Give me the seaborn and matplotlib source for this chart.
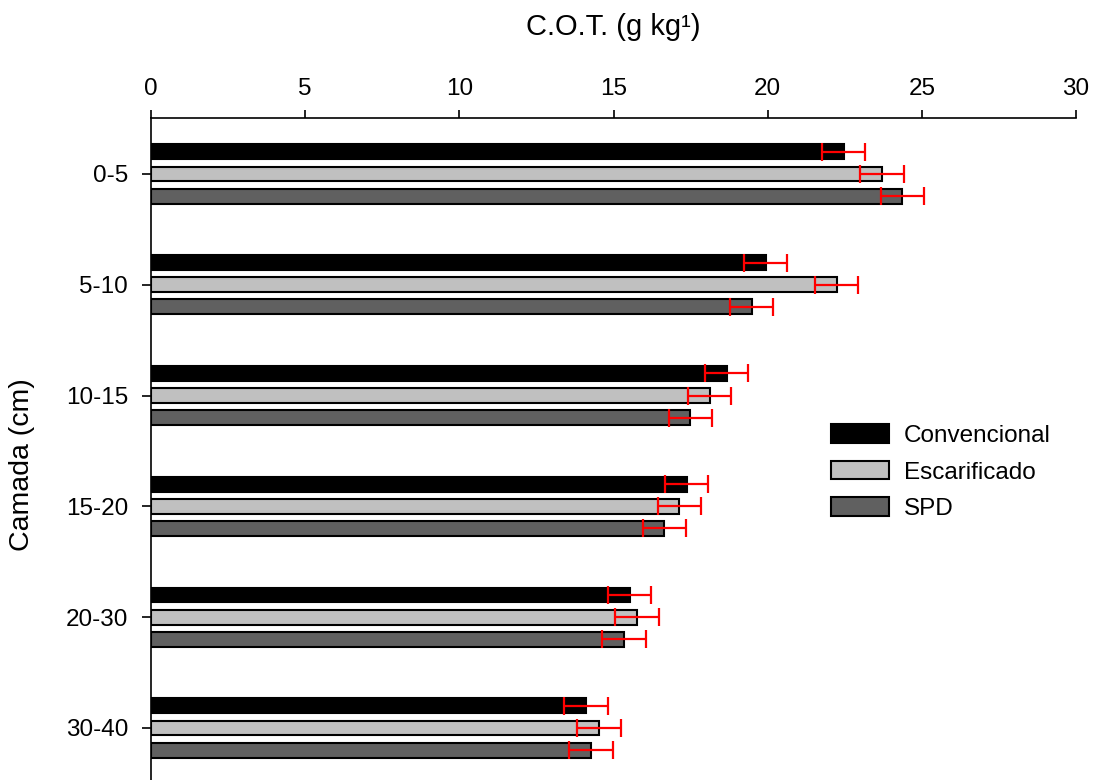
import matplotlib
matplotlib.use("Agg")
import matplotlib.pyplot as plt
import seaborn as sns
import pandas as pd

# soil layers (cm) and total organic carbon per management system
camadas = ['0-5', '5-10', '10-15', '15-20', '20-30', '30-40']
manejos = ['Convencional', 'Escarificado', 'SPD']
convencional = [22.47, 19.94, 18.67, 17.37, 15.53, 14.11]
escarificado = [23.71, 22.24, 18.12, 17.14, 15.76, 14.53]
spd = [24.37, 19.48, 17.49, 16.65, 15.34, 14.27]
erro = 0.7

sns.set_theme(style='white')
plt.rcParams['font.family'] = ['Liberation Sans', 'DejaVu Sans']
plt.rcParams['text.color'] = 'black'
plt.rcParams['axes.labelcolor'] = 'black'

df = pd.DataFrame({
    'camada': camadas * 3,
    'manejo': [m for m in manejos for _ in camadas],
    'cot': convencional + escarificado + spd,
})
cores = {'Convencional': '#000000', 'Escarificado': '#c0c0c0', 'SPD': '#606060'}

fig = plt.figure(figsize=(10.96, 7.8), dpi=100)
ax = fig.add_axes([151 / 1096, 0.0, 925 / 1096, 1 - 118 / 780])

sns.barplot(data=df, y='camada', x='cot', hue='manejo', order=camadas,
            hue_order=manejos, palette=cores, orient='h', errorbar=None,
            width=0.6, gap=0.33, edgecolor='black', linewidth=1.5, ax=ax)

# red error bars on top of each bar
barras = list(ax.containers)
for cont in barras:
    ys = [b.get_y() + b.get_height() / 2 for b in cont]
    xs = [b.get_width() for b in cont]
    ax.errorbar(xs, ys, xerr=erro, fmt='none', ecolor='red',
                elinewidth=1.6, capsize=6.7, capthick=1.6, zorder=5)

ax.set_xlim(0, 30)
ax.set_xticks(range(0, 31, 5))
ax.set_ylim(5.47, -0.505)

ax.xaxis.tick_top()
ax.xaxis.set_label_position('top')
ax.set_xlabel('C.O.T. (g kg¹)', fontsize=21, labelpad=31)
ax.set_ylabel('Camada (cm)', fontsize=20.5)
ax.yaxis.set_label_coords(-0.125, 0.477)

for s in ['bottom', 'right']:
    ax.spines[s].set_visible(False)
for s in ['top', 'left']:
    ax.spines[s].set_color('black')
    ax.spines[s].set_linewidth(1.2)

ax.tick_params(axis='x', which='both', top=True, bottom=False, direction='out',
               length=6, width=1.2, colors='black', labelsize=17.5, pad=7)
ax.tick_params(axis='y', left=True, direction='out', length=6.5, width=1.2,
               colors='black', labelsize=17.5, pad=10)

ax.legend(loc='center left', bbox_to_anchor=(0.735, 0.465), frameon=False,
          fontsize=17.5, handlelength=2.4, handleheight=0.8, labelspacing=0.56,
          handletextpad=0.6, borderpad=0, borderaxespad=0)

fig.savefig('out.png', dpi=100)
